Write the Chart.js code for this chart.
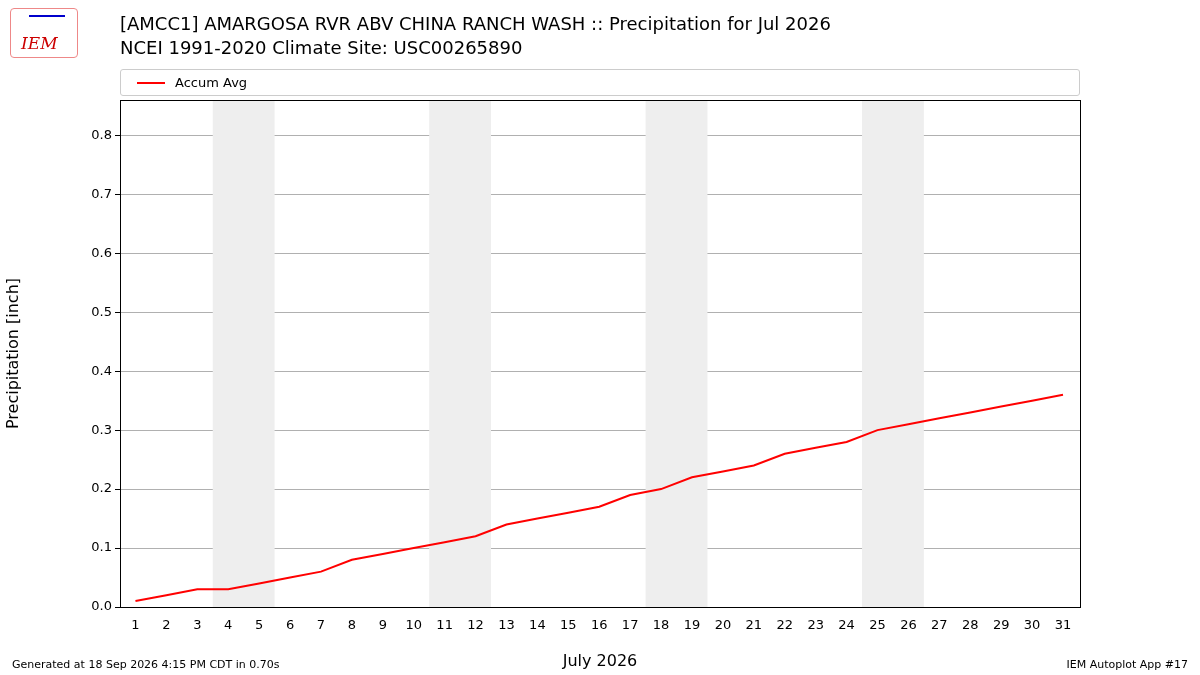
<!DOCTYPE html>
<html><head><meta charset="utf-8">
<script src="https://cdn.jsdelivr.net/npm/chart.js@4"></script>
<style>
body{margin:0;width:1200px;height:675px;background:#fff;font-family:"DejaVu Sans",sans-serif;position:relative;overflow:hidden}
#c{position:absolute;left:0;top:0}
.t{position:absolute;left:120px;font-size:18px;color:#000;line-height:24px}
#legend{position:absolute;left:120px;top:69px;width:958px;height:25px;border:1px solid #ccc;border-radius:3px;font-size:13px;display:flex;align-items:center}
#legend span.l{display:inline-block;width:28px;height:2px;background:red;margin:0 10px 0 16px}
.f{position:absolute;top:658px;font-size:11px}
#logo{position:absolute;left:10px;top:8px;width:66px;height:48px;border:1px solid #e88;border-radius:4px;color:#c00;font-style:italic;font-family:"DejaVu Serif",serif;font-size:17px}
</style></head><body>
<canvas id="c" width="1200" height="675"></canvas>
<div class="t" style="top:12px">[AMCC1] AMARGOSA RVR ABV CHINA RANCH WASH :: Precipitation for Jul 2026</div>
<div class="t" style="top:36px">NCEI 1991-2020 Climate Site: USC00265890</div>
<div id="legend"><span class="l"></span>Accum Avg</div>
<div id="logo"><span style="position:absolute;left:10px;top:24px">IEM</span><span style="position:absolute;left:18px;top:6px;width:36px;height:2px;background:#00c"></span></div>
<div class="f" style="left:12px">Generated at 18 Sep 2026 4:15 PM CDT in 0.70s</div>
<div class="f" style="right:12px">IEM Autoplot App #17</div>
<script>
const days=[1,2,3,4,5,6,7,8,9,10,11,12,13,14,15,16,17,18,19,20,21,22,23,24,25,26,27,28,29,30,31];
const accumAvg=[0.01,0.02,0.03,0.03,0.04,0.05,0.06,0.08,0.09,0.10,0.11,0.12,0.14,0.15,0.16,0.17,0.19,0.20,0.22,0.23,0.24,0.26,0.27,0.28,0.30,0.31,0.32,0.33,0.34,0.35,0.36];
const weekends=[[3.5,5.5],[10.5,12.5],[17.5,19.5],[24.5,26.5]];
const yTicks=[0,0.1,0.2,0.3,0.4,0.5,0.6,0.7,0.8];
const bands={id:'bands',beforeDatasetsDraw(ch){const {ctx,chartArea:a,scales:{x}}=ch;ctx.save();ctx.fillStyle='#eeeeee';weekends.forEach(([s,e])=>{const x1=x.getPixelForValue(s),x2=x.getPixelForValue(e);ctx.fillRect(x1,a.top,x2-x1,a.bottom-a.top);});ctx.restore();},
afterDraw(ch){const {ctx,chartArea:a}=ch;ctx.save();ctx.strokeStyle='#000';ctx.lineWidth=1;ctx.strokeRect(a.left+0.5,a.top+0.5,a.right-a.left,a.bottom-a.top);ctx.restore();}};
const font={family:'DejaVu Sans',size:13};
new Chart(document.getElementById('c'),{type:'line',
data:{datasets:[{data:days.map((d,i)=>({x:d,y:accumAvg[i]})),borderColor:'red',borderWidth:2,pointRadius:0,tension:0}]},
options:{responsive:false,animation:false,layout:{padding:{top:100,right:120,left:0,bottom:0}},
plugins:{legend:{display:false},tooltip:{enabled:false}},
scales:{x:{type:'linear',min:0.5,max:31.55,afterFit(s){s.height=68;},afterBuildTicks(s){s.ticks=days.map(v=>({value:v}));},
grid:{display:false,drawTicks:true},border:{display:false},ticks:{color:'#000',font,autoSkip:false,maxRotation:0},
title:{display:true,text:'July 2026',color:'#000',font:{family:'DejaVu Sans',size:16},padding:{top:2}}},
y:{min:0,max:0.86,afterFit(s){s.width=120;},afterBuildTicks(s){s.ticks=yTicks.map(v=>({value:v}));},
grid:{color:'#b0b0b0',tickColor:'#000',tickLength:5},border:{display:false},ticks:{color:'#000',font,callback:v=>v.toFixed(1)},
title:{display:true,text:'Precipitation [inch]',color:'#000',font:{family:'DejaVu Sans',size:16}}}}},
plugins:[bands]});
</script></body></html>
